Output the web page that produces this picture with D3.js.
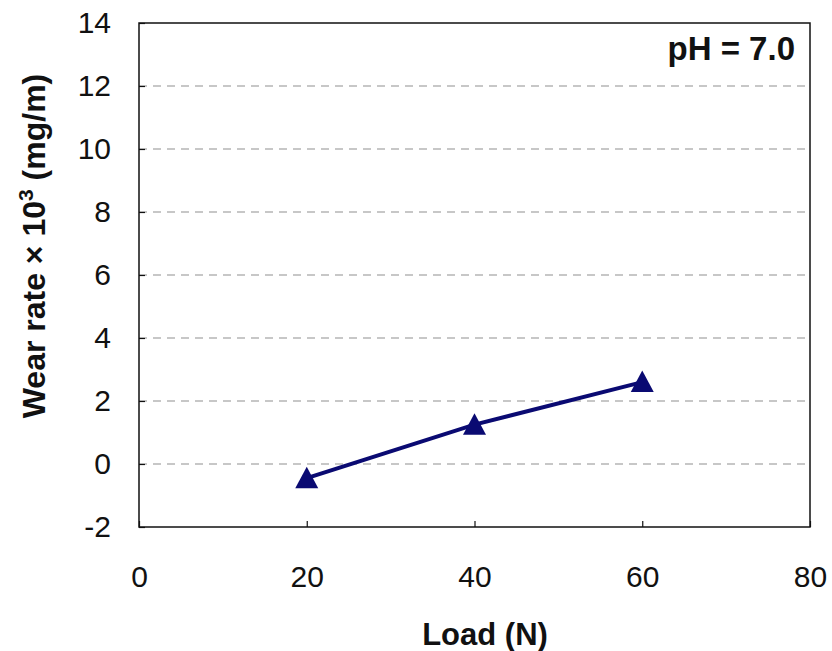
<!DOCTYPE html>
<html>
<head>
<meta charset="utf-8">
<script src="https://cdn.jsdelivr.net/npm/d3@7"></script>
<style>
  body { margin: 0; background: #fff; }
  svg text { font-family: "Liberation Sans", Arial, sans-serif; fill: #111; }
</style>
</head>
<body>
<div id="chart"></div>
<script>
// data
const loads = [20, 40, 60];
const wearRate = [-0.45, 1.25, 2.6];
const xTicks = [0, 20, 40, 60, 80];
const yTicks = [-2, 0, 2, 4, 6, 8, 10, 12, 14];
const label = "pH = 7.0";

const width = 832, height = 651;
const margin = { top: 23, right: 22, bottom: 124, left: 139 };
const w = width - margin.left - margin.right;
const h = height - margin.top - margin.bottom;

const svg = d3.select('#chart').append('svg')
    .attr('width', width)
    .attr('height', height);

const g = svg.append('g')
    .attr('transform', `translate(${margin.left},${margin.top})`);

const x = d3.scaleLinear().domain([0, 80]).range([0, w]);
const y = d3.scaleLinear().domain([-2, 14]).range([h, 0]);

// dashed gridlines
g.selectAll('.grid')
    .data(yTicks.filter(d => d > -2 && d < 14))
    .enter().append('line')
    .attr('x1', 0).attr('x2', w)
    .attr('y1', d => y(d)).attr('y2', d => y(d))
    .attr('stroke', '#8f8f8f')
    .attr('stroke-width', 1.2)
    .attr('stroke-dasharray', '8,6');

// axes with inside ticks
const fmt = d => String(d); // plain hyphen for negatives
const yAxis = g.append('g')
    .call(d3.axisLeft(y).tickValues(yTicks).tickFormat(fmt).tickSizeInner(-6).tickSizeOuter(0).tickPadding(28));
const xAxis = g.append('g')
    .attr('transform', `translate(0,${h})`)
    .call(d3.axisBottom(x).tickValues(xTicks).tickFormat(fmt).tickSizeInner(-6).tickSizeOuter(0).tickPadding(39));

[yAxis, xAxis].forEach(a => {
    a.attr('font-size', null).attr('font-family', null);
    a.select('.domain').remove();
    a.selectAll('line').attr('stroke', '#111').attr('stroke-width', 1.2);
    a.selectAll('text').style('font-size', '30px').attr('fill', '#111');
});

// frame
g.append('rect')
    .attr('width', w).attr('height', h)
    .attr('fill', 'none')
    .attr('stroke', '#111')
    .attr('stroke-width', 1.5);

const pts = loads.map((d, i) => ({ x: d, y: wearRate[i] }));

g.append('path')
    .datum(pts)
    .attr('fill', 'none')
    .attr('stroke', '#0a0a72')
    .attr('stroke-width', 4)
    .attr('d', d3.line().x(d => x(d.x)).y(d => y(d.y)));

// triangle markers
g.selectAll('.tri')
    .data(pts)
    .enter().append('path')
    .attr('transform', d => `translate(${x(d.x)},${y(d.y)})`)
    .attr('d', 'M0,-11.5 L11.5,10 L-11.5,10 Z')
    .attr('fill', '#0a0a72');

// label
g.append('text')
    .attr('x', w - 15)
    .attr('y', 37)
    .attr('text-anchor', 'end')
    .style('font-size', '33px')
    .attr('font-weight', 'bold')
    .text(label);

// axis titles
svg.append('text')
    .attr('x', 485)
    .attr('y', 645)
    .attr('text-anchor', 'middle')
    .style('font-size', '31px')
    .attr('font-weight', 'bold')
    .text('Load (N)');

const yt = svg.append('text')
    .attr('transform', `translate(45,246) rotate(-90)`)
    .attr('text-anchor', 'middle')
    .style('font-size', '32px')
    .attr('font-weight', 'bold');
yt.append('tspan').text('Wear rate \u00d7 10');
yt.append('tspan').attr('dy', -12).style('font-size', '21px').text('3');
yt.append('tspan').attr('dy', 12).text(' (mg/m)');
</script>
</body>
</html>
